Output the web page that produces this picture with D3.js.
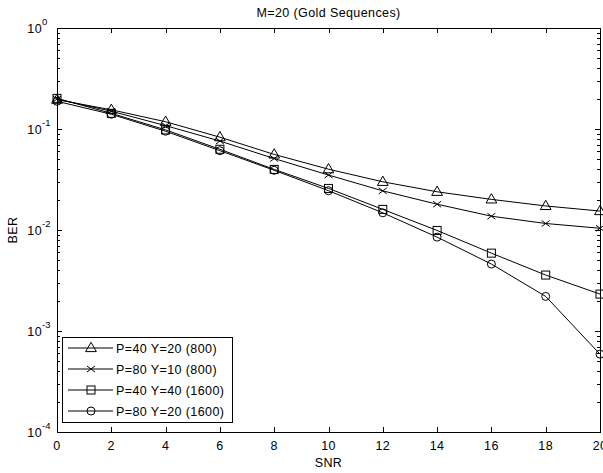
<!DOCTYPE html>
<html>
<head>
<meta charset="utf-8">
<script src="https://cdn.jsdelivr.net/npm/d3@7"></script>
<style>
  body { margin: 0; background: #fff; }
  text { font-family: "Liberation Sans", Arial, sans-serif; font-size: 12.5px; letter-spacing: 0.4px; fill: #000; }
</style>
</head>
<body>
<div id="chart"></div>
<script>
// data
const snr = [0, 2, 4, 6, 8, 10, 12, 14, 16, 18, 20];
const p40y20 = [0.195, 0.155, 0.118, 0.083, 0.056, 0.040, 0.030, 0.0239, 0.0201, 0.0173, 0.0154];
const p80y10 = [0.198, 0.150, 0.108, 0.076, 0.051, 0.035, 0.0244, 0.018, 0.0137, 0.0116, 0.0104];
const p40y40 = [0.201, 0.143, 0.098, 0.063, 0.0398, 0.0258, 0.016, 0.0099, 0.0059, 0.00358, 0.00232];
const p80y20 = [0.188, 0.140, 0.095, 0.061, 0.0390, 0.0245, 0.0148, 0.0085, 0.0046, 0.0022, 0.00059];
const seriesNames = ["P=40 Y=20 (800)", "P=80 Y=10 (800)", "P=40 Y=40 (1600)", "P=80 Y=20 (1600)"];
const markers = ["triangle", "cross", "square", "circle"];
const xTicks = [0, 2, 4, 6, 8, 10, 12, 14, 16, 18, 20];
const yMajor = [1e-4, 1e-3, 1e-2, 1e-1, 1];

const width = 603, height = 473;
const mLeft = 57, mRight = 600, mTop = 28, mBottom = 432;

const svg = d3.select("#chart").append("svg")
  .attr("width", width).attr("height", height);

const x = d3.scaleLinear().domain([0, 20]).range([mLeft, mRight]);
const y = d3.scaleLog().domain([1e-4, 1]).range([mBottom, mTop]);

// frame
svg.append("rect")
  .attr("x", mLeft + 0.5).attr("y", mTop + 0.5)
  .attr("width", mRight - mLeft).attr("height", mBottom - mTop)
  .attr("fill", "none").attr("stroke", "#000").attr("stroke-width", 1);

const ticks = svg.append("g").attr("stroke", "#000").attr("stroke-width", 1);

// x ticks (inside, top and bottom)
xTicks.forEach(t => {
  const px = Math.round(x(t)) + 0.5;
  ticks.append("line").attr("x1", px).attr("x2", px).attr("y1", mBottom).attr("y2", mBottom - 5);
  ticks.append("line").attr("x1", px).attr("x2", px).attr("y1", mTop).attr("y2", mTop + 5);
  svg.append("text").attr("x", x(t)).attr("y", mBottom + 18)
    .attr("text-anchor", "middle").text(t);
});

// y ticks, major + minor
y.ticks().forEach(t => {
  const isMajor = yMajor.some(m => Math.abs(m - t) / m < 1e-6);
  const len = isMajor ? 5 : 3;
  const py = Math.round(y(t)) + 0.5;
  ticks.append("line").attr("x1", mLeft).attr("x2", mLeft + len).attr("y1", py).attr("y2", py);
  ticks.append("line").attr("x1", mRight).attr("x2", mRight - len).attr("y1", py).attr("y2", py);
});

yMajor.forEach(t => {
  const e = Math.round(Math.log10(t));
  svg.append("text").attr("x", mLeft - 15).attr("y", y(t) + 5)
    .attr("text-anchor", "end").text("10");
  svg.append("text").attr("x", mLeft - 15).attr("y", y(t) - 3)
    .attr("text-anchor", "start").style("font-size", "9.5px").style("letter-spacing", "0px")
    .text(e === 0 ? "0" : "-" + Math.abs(e));
});

// labels
svg.append("text").attr("x", (mLeft + mRight) / 2).attr("y", 17)
  .attr("text-anchor", "middle").text("M=20 (Gold Sequences)");
svg.append("text").attr("x", (mLeft + mRight) / 2).attr("y", 467)
  .attr("text-anchor", "middle").text("SNR");
svg.append("text").attr("transform", `translate(17,${(mTop + mBottom) / 2}) rotate(-90)`)
  .attr("text-anchor", "middle").text("BER");

function drawMarker(g, type, cx, cy) {
  if (type === "triangle") {
    g.append("path").attr("d", d3.symbol(d3.symbolTriangle, 50)()).attr("transform", `translate(${cx},${cy + 0.5})`)
      .attr("fill", "none").attr("stroke", "#000");
  } else if (type === "cross") {
    g.append("path").attr("d", `M${cx - 4},${cy - 3}L${cx + 4},${cy + 3}M${cx - 4},${cy + 3}L${cx + 4},${cy - 3}`)
      .attr("fill", "none").attr("stroke", "#000");
  } else if (type === "square") {
    g.append("rect").attr("x", cx - 4).attr("y", cy - 4).attr("width", 8).attr("height", 8)
      .attr("fill", "none").attr("stroke", "#000");
  } else {
    g.append("circle").attr("cx", cx).attr("cy", cy).attr("r", 4)
      .attr("fill", "none").attr("stroke", "#000");
  }
}

const line = d3.line().x((d, i) => x(snr[i])).y(d => y(d));
const plot = svg.append("g");
[p40y20, p80y10, p40y40, p80y20].forEach((vals, k) => {
  plot.append("path").datum(vals).attr("d", line)
    .attr("fill", "none").attr("stroke", "#000").attr("stroke-width", 1);
  vals.forEach((v, i) => drawMarker(plot, markers[k], x(snr[i]), y(v)));
});

// legend
const lg = svg.append("g");
lg.append("rect").attr("x", 62.5).attr("y", 337.5).attr("width", 170).attr("height", 85)
  .attr("fill", "#fff").attr("stroke", "#000");
seriesNames.forEach((name, k) => {
  const ly = 348 + k * 21;
  lg.append("line").attr("x1", 68).attr("x2", 113).attr("y1", ly).attr("y2", ly)
    .attr("stroke", "#000");
  drawMarker(lg, markers[k], 91, ly);
  lg.append("text").attr("x", 116).attr("y", ly + 4.5).text(name);
});
</script>
</body>
</html>
